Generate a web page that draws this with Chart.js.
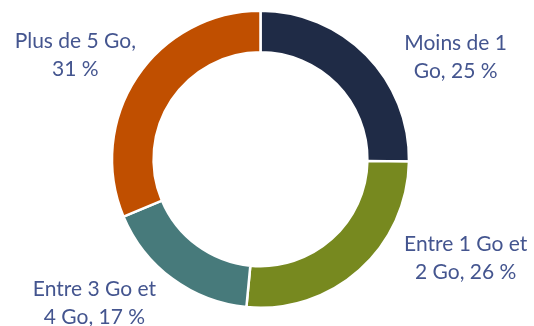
<!DOCTYPE html>
<html>
<head>
<meta charset="utf-8">
<script src="https://cdn.jsdelivr.net/npm/chart.js@4/dist/chart.umd.min.js"></script>
<style>
html,body{margin:0;padding:0;background:#fff;}
#wrap{width:534px;height:326px;position:relative;}
</style>
</head>
<body>
<div id="wrap"><canvas id="c" width="534" height="326"></canvas></div>
<script>
// Data
const categories = ['Moins de 1 Go', 'Entre 1 Go et 2 Go', 'Entre 3 Go et 4 Go', 'Plus de 5 Go'];
const values = [25, 26, 17, 31];
const labelLine1 = ['Moins de 1', 'Entre 1 Go et', 'Entre 3 Go et', 'Plus de 5 Go,'];
const labelLine2Prefix = ['Go, ', '2 Go, ', '4 Go, ', ''];
const colors = ['#1F2B46', '#77891F', '#477A7B', '#C04F00'];

// Label layout (offsets from doughnut centre, in units of outer radius)
const labelOffsets = [
  {fx: 1.314, fy: -0.686},
  {fx: 1.382, fy: 0.666},
  {fx: -1.118, fy: 0.970},
  {fx: -1.247, fy: -0.699}
];

const labelPlugin = {
  id: 'outerLabels',
  afterDatasetsDraw(chart) {
    const meta = chart.getDatasetMeta(0);
    const ctx = chart.ctx;
    const arc0 = meta.data[0];
    const cx = arc0.x, cy = arc0.y, r = arc0.outerRadius;
    ctx.save();
    ctx.fillStyle = '#44558F';
    ctx.font = '21px Lato, "Open Sans", sans-serif';
    ctx.textAlign = 'center';
    ctx.textBaseline = 'middle';
    meta.data.forEach((arc, i) => {
      const o = labelOffsets[i];
      const x = cx + o.fx * r;
      const y = cy + o.fy * r;
      const l1 = labelLine1[i];
      const l2 = labelLine2Prefix[i] + values[i] + ' %';
      ctx.fillText(l1, x, y - 14);
      ctx.fillText(l2, x, y + 14);
    });
    ctx.restore();
  }
};

new Chart(document.getElementById('c'), {
  type: 'doughnut',
  data: {
    labels: categories,
    datasets: [{
      data: values,
      backgroundColor: colors,
      borderColor: '#ffffff',
      borderWidth: 2.5,
      hoverOffset: 0
    }]
  },
  options: {
    responsive: false,
    animation: false,
    cutout: '72%',
    rotation: 0,
    layout: { padding: { top: 9.5, bottom: 17, left: 110.5, right: 123.5 } },
    plugins: { legend: { display: false }, tooltip: { enabled: false } }
  },
  plugins: [labelPlugin]
});
</script>
</body>
</html>
